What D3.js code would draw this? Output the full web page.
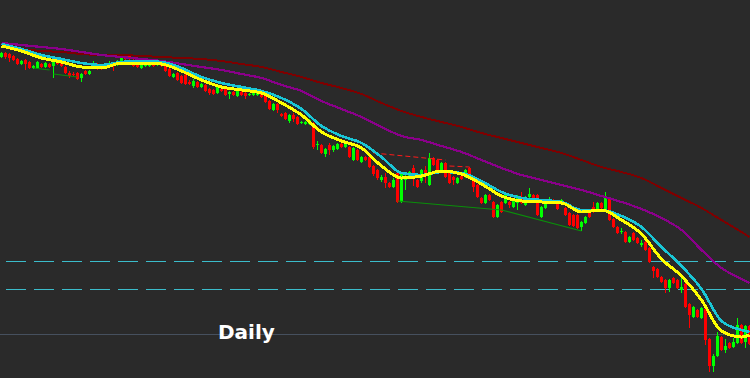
<!DOCTYPE html>
<html><head><meta charset="utf-8">
<script src="https://cdn.jsdelivr.net/npm/d3@7"></script>
<style>html,body{margin:0;padding:0;background:#2a2a2a;overflow:hidden}</style>
</head><body><svg id="chart" width="750" height="378"></svg>
<script>
// ---- data (price units) ----
const openP = [
343,347,346,344,341,336,340,338,332,332,
336,333,336,334,338,338,333,327,326,327,
322,329,326,332,333,332,332,333,337,335,
338,343,344,340,337,332,334,334,338,335,
337,334,331,323,327,324,325,318,314,318,
313,315,311,310,307,311,311,306,308,304,
308,307,305,305,305,307,304,299,290,296,
286,287,279,285,283,277,276,276,277,255,
255,246,255,250,251,256,253,253,240,250,
238,243,243,234,230,220,223,217,213,227,
198,220,223,232,220,219,230,215,242,240,
230,237,227,223,217,224,223,232,222,215,
202,197,205,198,183,198,197,198,193,197,
202,195,203,205,205,183,192,197,200,197,
197,192,187,185,185,173,177,188,193,190,
197,190,202,181,173,168,168,158,167,162,
155,158,152,133,131,123,120,112,122,120,
110,116,96,83,90,82,91,61,34,44,
63,50,57,53,57,75,58,74];
const closeP = [
347,343,342,340,336,339,336,332,334,338,
333,337,333,340,336,334,327,324,325,321,
326,326,329,334,331,331,334,337,334,339,
343,341,342,334,333,335,337,339,334,336,
334,329,324,326,320,317,316,316,319,313,
316,309,307,306,313,309,305,308,305,309,
305,304,306,310,307,303,298,291,296,290,
284,281,285,281,276,278,278,280,253,256,
247,251,250,254,256,253,256,243,252,240,
243,240,233,226,222,223,217,213,220,198,
227,222,228,223,213,230,225,242,235,228,
237,223,217,220,222,221,230,225,213,203,
197,205,200,183,195,188,205,195,200,204,
197,203,206,200,185,193,198,200,197,191,
200,185,175,174,172,178,183,183,188,197,
192,202,180,173,167,169,158,163,160,157,
157,150,138,129,123,118,112,120,117,112,
113,93,85,93,83,92,60,34,44,64,
50,54,52,58,75,57,74,56];
const highP = [
348,348,347,345,342,340,341,339,335,339,
337,338,337,342,342,340,334,329,328,328,
327,330,330,339,337,333,336,339,338,340,
346,345,345,341,338,336,338,340,339,338,
338,335,332,327,328,325,327,320,321,319,
317,316,312,311,314,312,312,309,309,310,
309,308,307,311,308,308,305,300,297,297,
287,288,286,287,284,279,279,281,278,259,
256,252,257,255,257,257,257,254,253,251,
244,244,244,235,231,225,227,218,222,228,
228,228,229,235,221,231,234,247,243,241,
238,238,228,224,223,225,231,233,223,216,
203,206,206,199,196,199,206,199,201,205,
208,204,212,206,206,194,199,203,201,198,
201,193,188,186,186,179,184,189,198,198,
198,208,203,182,174,172,169,164,168,163,
160,160,153,134,132,124,121,121,123,121,
122,117,97,94,91,93,92,62,46,68,
64,61,58,62,82,76,75,75];
const lowP = [
342,341,338,339,335,335,330,331,331,331,
332,332,332,322,335,333,326,322,324,320,
318,325,325,331,330,330,331,332,329,334,
337,339,340,333,332,331,333,333,333,334,
333,328,323,322,319,316,315,315,312,312,
312,308,305,305,306,308,304,301,304,303,
304,301,304,304,304,302,297,290,289,287,
283,280,277,278,275,276,275,275,251,250,
246,243,245,248,250,252,252,242,239,239,
237,239,232,224,220,218,212,212,212,197,
197,210,222,214,212,217,217,214,234,227,
229,222,216,215,216,220,222,224,208,202,
196,196,199,182,182,187,196,192,192,190,
196,194,202,199,184,182,191,196,196,190,
196,184,174,173,171,169,176,182,187,189,
191,189,179,172,166,166,157,157,159,156,
153,149,137,122,122,117,107,108,116,111,
107,92,72,82,82,81,55,28,28,43,
49,47,51,52,56,56,52,55];

// moving averages, read at these bar numbers
const maIdx  = [0,5,10,15,20,25,30,35,40,45,50,55,60,65,70,75,80,85,90,95,100,105,110,115,120,125,130,135,140,145,150,155,160,165,170,175,180,185,187];
const maFast = [354,349,342,338,333,332,337,337,336,329,320,313,310,307,297,285,268,259,252,234,222,224,229,226,216,204,199,198,197,188,190,180,166,141,124,100,69,63,65];
const maMid  = [356,351,345,341,337,335,338,339,338,332,323,317,313,309,302,291,274,264,257,243,227,225,228,227,219,208,202,200,198,190,190,184,173,153,134,111,79,70,68];
const maSlow = [357,355,353,351,348,345,343,341,339,336,333,330,326,322,315,309,299,291,283,273,264,260,254,248,240,232,225,220,215,210,204,198,191,182,170,150,132,121,117];
const maLong = [353,351,349,348,346,345,345,344,343,342,341,339,336,333,328,323,317,312,306,297,289,283,278,273,267,262,257,252,247,240,233,228,222,212,202,192,180,168,163];

// drawn objects: [bar, price] pairs
const resistanceLines = [[[93,247],[111,240]], [[112,234],[117,233]]];
const supportLines = [[[8,332],[12,330]], [[13,326],[19,323]], [[99,199],[125,190],[145,169]]];
const dashedLevels = [139, 111];
const baseLevel = 66;
const label = "Daily";

// ---- chart ----
const W = 750, H = 378;
const svg = d3.select("#chart");
svg.append("rect").attr("width", W).attr("height", H).attr("fill", "#2a2a2a");

const bars = d3.range(openP.length);
const x = d3.scaleBand().domain(bars).range([-0.5, W + 1.5]).padding(0);
const y = d3.scaleLinear().domain([22, 400]).range([H, 0]);
const cx = i => x(i) + 2;

// horizontal levels
svg.selectAll("line.lvl").data(dashedLevels).join("line")
  .attr("x1", 0).attr("x2", W)
  .attr("y1", d => Math.round(y(d)) + 0.5).attr("y2", d => Math.round(y(d)) + 0.5)
  .attr("stroke", "#3bbccb").attr("stroke-width", 1)
  .attr("stroke-dasharray", "20,8").attr("stroke-dashoffset", 22);

svg.append("line").attr("x1", 0).attr("x2", W)
  .attr("y1", y(baseLevel) + 0.5).attr("y2", y(baseLevel) + 0.5)
  .attr("stroke", "#46505e").attr("stroke-width", 1);

// candles
const candles = svg.append("g").attr("shape-rendering", "crispEdges");
bars.forEach(i => {
  const o = openP[i], c = closeP[i];
  const col = c > o ? "#00ff00" : "#ff0000";
  candles.append("line")
    .attr("x1", cx(i) - 0.5).attr("x2", cx(i) - 0.5)
    .attr("y1", y(highP[i])).attr("y2", y(lowP[i]))
    .attr("stroke", col).attr("stroke-width", 1);
  const top = y(Math.max(o, c));
  candles.append("rect")
    .attr("x", x(i) + 0.5).attr("width", 3)
    .attr("y", top).attr("height", Math.max(1, Math.abs(y(o) - y(c))))
    .attr("fill", col);
});

// trend lines
const seg = d3.line().x(d => cx(d[0])).y(d => y(d[1]));
resistanceLines.forEach(l => svg.append("path").attr("d", seg(l))
  .attr("fill", "none").attr("stroke", "#ff1a1a").attr("stroke-width", 1).attr("stroke-dasharray", "5,3"));
supportLines.forEach(l => svg.append("path").attr("d", seg(l))
  .attr("fill", "none").attr("stroke", "#0a8f0a").attr("stroke-width", 1.2));

// moving averages
const ma = d3.line().x((d, k) => cx(maIdx[k])).y(d => y(d)).curve(d3.curveMonotoneX);
[[maLong, "#7d0000", 2], [maSlow, "#8a008a", 2.2], [maMid, "#19c6d6", 2.6], [maFast, "#ffff00", 3]]
  .forEach(([data, col, w]) => svg.append("path").attr("d", ma(data))
    .attr("fill", "none").attr("stroke", col).attr("stroke-width", w)
    .attr("shape-rendering", "crispEdges"));

// label
svg.append("text").attr("x", 218).attr("y", 339)
  .attr("fill", "#ffffff").attr("font-family", "DejaVu Sans, Verdana, sans-serif")
  .attr("font-weight", "bold").attr("font-size", 20).text(label);
</script></body></html>
